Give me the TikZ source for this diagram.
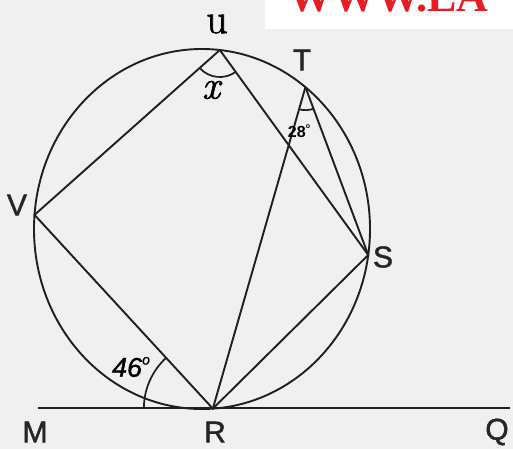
\documentclass[tikz,border=0pt]{standalone}
\usepackage{fontspec}
\setmainfont{Liberation Sans}
\newfontfamily\lmfont{Latin Modern Roman}
\newfontfamily\wmfont{Liberation Serif}
\usetikzlibrary{angles,quotes,calc}
\definecolor{bgc}{RGB}{240,240,240}
\definecolor{wmred}{RGB}{232,28,36}
\begin{document}
\begin{tikzpicture}[x=1pt,y=-1pt,
  geo/.style={line width=1.9pt,black!88},
  lbl/.style={font=\addfontfeature{FakeBold=1.5}\fontsize{30}{30}\selectfont,text=black!85},
  angarc/.style={draw,line width=1.7pt,black!88}]
\useasboundingbox (0,0) rectangle (513,449);
\fill[bgc] (0,0) rectangle (513,449);
% watermark
\fill[white] (265,0) rectangle (513,29);
\begin{scope}
\clip (265,0) rectangle (513,29);
\node[anchor=base west,inner sep=0pt,text=wmred,font=\wmfont\bfseries\fontsize{44}{44}\selectfont] (wm) at (288,12) {WWW.LA};
\end{scope}
% circle
\coordinate (c) at (202,229);
\draw[geo] (c) ellipse [x radius=168pt, y radius=180pt];
\coordinate (U) at ($(c)+(83.9:168pt and 180pt)$);
\coordinate (T) at ($(c)+(52:168pt and 180pt)$);
\coordinate (S) at ($(c)+(-8.3:168pt and 180pt)$);
\coordinate (V) at ($(c)+(175.5:168pt and 180pt)$);
\coordinate (R) at ($(c)+(-86.3:168pt and 180pt)$);
\coordinate (M) at (38,408);
\coordinate (Q) at (510,408);
% lines
\draw[geo] (M) -- (Q);
\draw[geo] (U) -- (V) -- (R) -- (S) -- (U);
\draw[geo] (T) -- (S);
\draw[geo] (T) -- (R);
% angles
\pic[angarc, angle radius=27pt] {angle = V--U--S};
\pic[angarc, angle radius=23pt] {angle = R--T--S};
\pic[angarc, angle radius=69pt] {angle = V--R--M};
% labels
\node[lbl] (lM) at (35,432) {M};
\node[lbl] (lR) at (215,432) {R};
\node[lbl] (lQ) at (497,432) {Q};
\node[lbl] (lS) at (383,257) {S};
\node[lbl] (lT) at (302,60) {T};
\node[lbl] (lV) at (17,205) {V};
\node[font=\lmfont\addfontfeature{FakeBold=1.5}\fontsize{42}{42}\selectfont] (lU) at (217,24) {u};
\node[font=\lmfont\itshape\addfontfeature{FakeBold=1.5}\fontsize{40}{40}\selectfont] (lx) at (211,90) {x};
\node[font=\bfseries\fontsize{16}{16}\selectfont,inner sep=0pt] (l28) at (299,131) {28\raisebox{0.55em}{\fontsize{7}{7}\selectfont o}};
\node[font=\itshape\addfontfeature{FakeBold=1.2}\fontsize{27}{27}\selectfont] (l46) at (131,367) {46\raisebox{0.45em}{\fontsize{14}{14}\selectfont o}};
\end{tikzpicture}
\end{document}
